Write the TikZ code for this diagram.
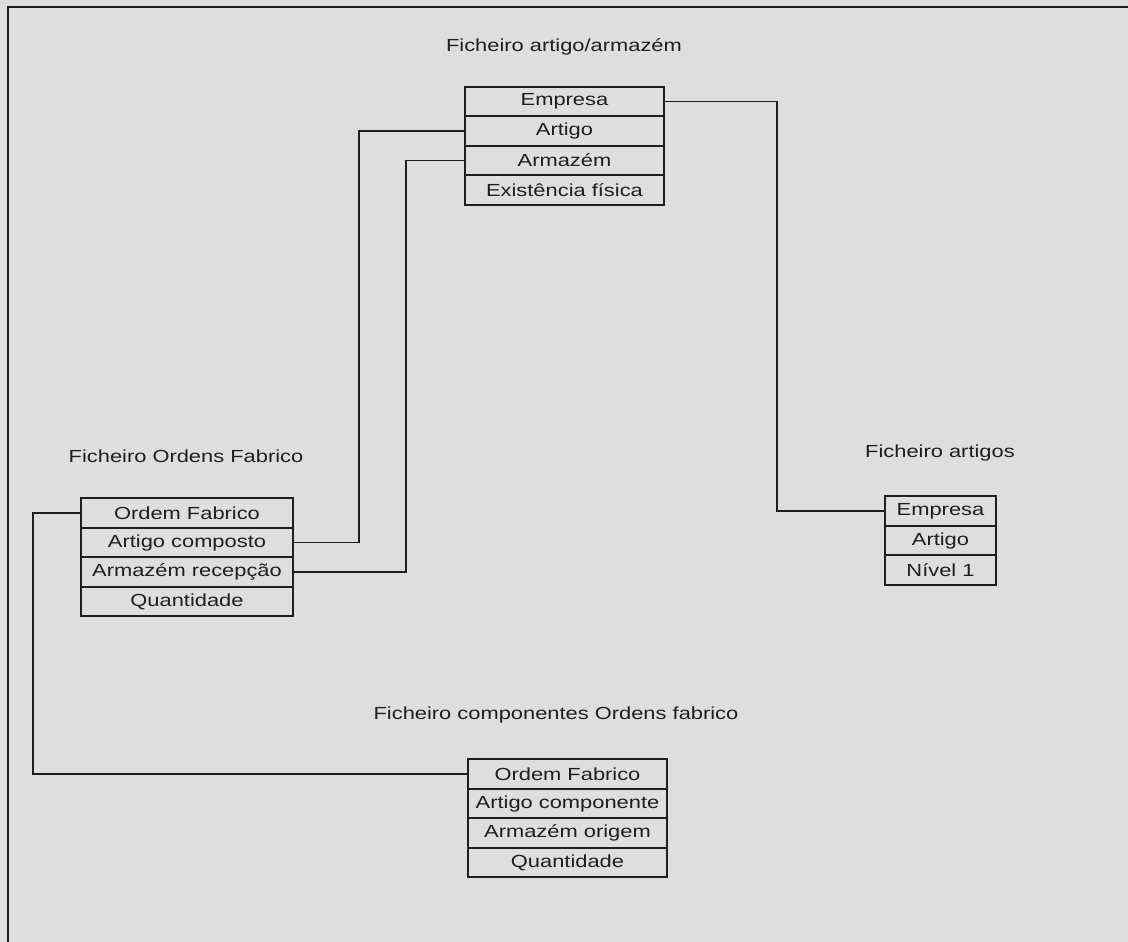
\documentclass[tikz,border=0pt]{standalone}
\usepackage{fontspec}
\setmainfont{Liberation Sans}[FakeStretch=1.25]
\usepackage{xcolor}
\usepackage{tikz}
\usetikzlibrary{positioning}

\definecolor{papel}{RGB}{222,222,222}
\definecolor{tinta}{RGB}{30,30,30}

\tikzset{
    campo/.style={draw=tinta, line width=1.8pt, fill=papel, text=tinta,
        minimum height=29.5pt, inner sep=0pt, outer sep=0pt,
        font=\fontsize{17.5}{20}\selectfont},
    titulo/.style={text=tinta, inner sep=0pt, font=\fontsize{17.5}{20}\selectfont},
    ligacao/.style={draw=tinta, line width=1.8pt}
}

\begin{document}
\begin{tikzpicture}[x=1pt,y=-1pt]
        % page and frame
        \fill[papel] (0,0) rectangle (1128,942);
        \useasboundingbox (0,0) rectangle (1128,942);
        \draw[tinta, line width=2pt] (8,1000) -- (8,7) -- (1200,7);

        % Ficheiro artigo/armazem
        \node[titulo] (taa) at (564,47) {Ficheiro artigo/armazém};
        \node[campo, minimum width=199pt] (aa1) at (564.5,101.5) {Empresa};
        \node[campo, minimum width=199pt, below=0pt of aa1] (aa2) {Artigo};
        \node[campo, minimum width=199pt, below=0pt of aa2] (aa3) {Armazém};
        \node[campo, minimum width=199pt, below=0pt of aa3] (aa4) {Existência física};

        % Ficheiro artigos
        \node[titulo] (tar) at (940,453) {Ficheiro artigos};
        \node[campo, minimum width=111pt] (ar1) at (940.5,511) {Empresa};
        \node[campo, minimum width=111pt, below=0pt of ar1] (ar2) {Artigo};
        \node[campo, minimum width=111pt, below=0pt of ar2] (ar3) {Nível 1};

        % Ficheiro Ordens Fabrico
        \node[titulo] (tof) at (186,456) {Ficheiro Ordens Fabrico};
        \node[campo, minimum width=212pt] (of1) at (187,513) {Ordem Fabrico};
        \node[campo, minimum width=212pt, below=0pt of of1] (of2) {Artigo composto};
        \node[campo, minimum width=212pt, below=0pt of of2] (of3) {Armazém recepção};
        \node[campo, minimum width=212pt, below=0pt of of3] (of4) {Quantidade};

        % Ficheiro componentes Ordens fabrico
        \node[titulo] (toc) at (556,715) {Ficheiro componentes Ordens fabrico};
        \node[campo, minimum width=199pt] (oc1) at (567.5,774) {Ordem Fabrico};
        \node[campo, minimum width=199pt, below=0pt of oc1] (oc2) {Artigo componente};
        \node[campo, minimum width=199pt, below=0pt of oc2] (oc3) {Armazém origem};
        \node[campo, minimum width=199pt, below=0pt of oc3] (oc4) {Quantidade};

        % ligacoes
        \draw[ligacao] (aa1.east) -- ++(113,0) |- (ar1.west);
        \draw[ligacao] (aa2.west) -- ++(-106,0) |- (of2.east);
        \draw[ligacao] (aa3.west) -- ++(-59,0) |- (of3.east);
        \draw[ligacao] (of1.west) -- ++(-48,0) |- (oc1.west);
    \end{tikzpicture}
\end{document}
